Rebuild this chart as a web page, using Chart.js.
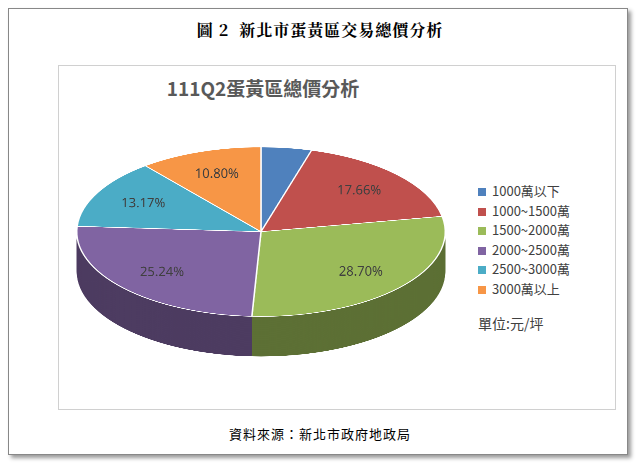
<!DOCTYPE html>
<html><head><meta charset="utf-8">
<script src="https://cdn.jsdelivr.net/npm/chart.js@4"></script>
<style>
body{margin:0;background:#fff;width:640px;height:468px;position:relative;overflow:hidden;font-family:"Noto Sans CJK TC","Noto Sans",sans-serif}
#frame{position:absolute;left:8px;top:8px;width:618px;height:445px;border:1px solid #888;box-shadow:3px 3px 4px #999;background:#fff}
#head{position:absolute;left:0;top:18px;width:640px;text-align:center;font:bold 16px "Noto Serif CJK TC","Noto Sans CJK TC",serif;letter-spacing:1px;color:#000}
#box{position:absolute;left:58px;top:65px;width:556px;height:343px;border:1px solid #d0d0d0}
#title{position:absolute;left:58px;top:74px;width:410px;text-align:center;font-weight:bold;font-size:19px;color:#595959}
#wrap{position:absolute;left:61px;top:142px;width:400px;height:480px;transform-origin:0 0;transform:scaleY(0.46)}
#legend{position:absolute;left:478px;top:181px;font-size:13px;color:#404040;line-height:19.5px}
#legend span{display:inline-block;width:8px;height:8px;margin-right:6px}
#unit{position:absolute;left:478px;top:313px;font-size:14px;color:#404040}
#src{position:absolute;left:0;top:424px;width:640px;text-align:center;font:13px "Noto Sans CJK TC",serif;color:#000;letter-spacing:1px}
</style></head><body>
<div id="frame"></div>
<div id="head">圖 2&nbsp; 新北市蛋黃區交易總價分析</div>
<div id="box"></div>
<div id="title">111Q2蛋黃區總價分析</div>
<div id="wrap"><canvas id="pie" width="400" height="480"></canvas></div>
<div id="legend"></div>
<div id="unit">單位:元/坪</div>
<div id="src">資料來源：新北市政府地政局</div>
<script>
const categories = ['1000萬以下', '1000~1500萬', '1500~2000萬', '2000~2500萬', '2500~3000萬', '3000萬以上'];
const shares = [4.43, 17.66, 28.70, 25.24, 13.17, 10.80];
const colors = ['#4f81bd', '#c0504d', '#9bbb59', '#8064a2', '#4bacc6', '#f79646'];
const sides = ['#2f4d71', '#73302e', '#5d7035', '#4d3c61', '#2d6777', '#945a2a'];

const SY = 0.46;
const DEPTH = 40 / SY;

document.getElementById('legend').innerHTML = categories.map((c, i) =>
    '<div><span style="background:' + colors[i] + '"></span>' + c + '</div>').join('');

const pie3d = {
    id: 'pie3d',
    beforeDatasetsDraw(chart) {
        const ctx = chart.ctx;
        const arcs = chart.getDatasetMeta(0).data;
        for (let d = DEPTH; d > 0; d -= 1.5) {
            arcs.forEach((a, i) => {
                ctx.beginPath();
                ctx.moveTo(a.x, a.y + d);
                ctx.arc(a.x, a.y + d, a.outerRadius, a.startAngle, a.endAngle);
                ctx.closePath();
                ctx.fillStyle = sides[i];
                ctx.fill();
            });
        }
    },
    afterDatasetsDraw(chart) {
        const ctx = chart.ctx;
        const arcs = chart.getDatasetMeta(0).data;
        ctx.font = '13px "Noto Sans", sans-serif';
        ctx.fillStyle = '#404040';
        ctx.textAlign = 'center';
        ctx.textBaseline = 'middle';
        arcs.forEach((a, i) => {
            const mid = (a.startAngle + a.endAngle) / 2;
            const f = shares[i] < 6 ? 1.12 : 0.72;
            const x = a.x + Math.cos(mid) * a.outerRadius * f;
            const y = a.y + Math.sin(mid) * a.outerRadius * f;
            ctx.save();
            ctx.translate(x, y);
            ctx.scale(1, 1 / SY);
            ctx.fillText(shares[i].toFixed(2) + '%', 0, 0);
            ctx.restore();
        });
    }
};

new Chart(document.getElementById('pie'), {
    type: 'pie',
    data: {
        labels: categories,
        datasets: [{ data: shares, backgroundColor: colors, borderColor: '#fff', borderWidth: 1.5 }]
    },
    options: {
        responsive: false,
        devicePixelRatio: 2,
        animation: false,
        layout: { padding: { top: 10, bottom: 100, left: 15, right: 15 } },
        plugins: { legend: { display: false }, tooltip: { enabled: false } }
    },
    plugins: [pie3d]
});
</script>
</body></html>
